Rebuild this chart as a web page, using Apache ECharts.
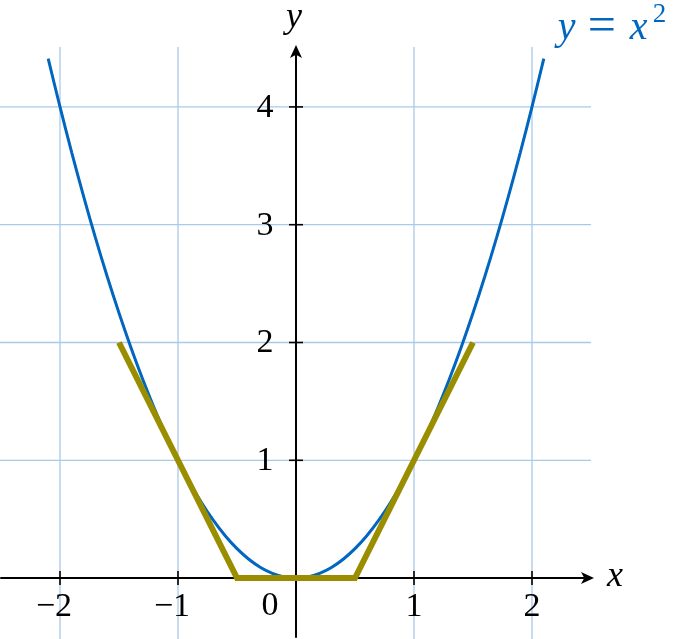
<!DOCTYPE html>
<html>
<head>
<meta charset="utf-8">
<script src="https://cdn.jsdelivr.net/npm/echarts@6/dist/echarts.min.js"></script>
<style>
html,body{margin:0;padding:0;background:#fff;}
#chart{width:675px;height:639px;}
</style>
</head>
<body>
<div id="chart"></div>
<script>
// ---- data ----
const curveX = [-2.1,-2.0,-1.9,-1.8,-1.7,-1.6,-1.5,-1.4,-1.3,-1.2,-1.1,-1.0,-0.9,-0.8,-0.7,-0.6,-0.5,-0.4,-0.3,-0.2,-0.1,0.0,0.1,0.2,0.3,0.4,0.5,0.6,0.7,0.8,0.9,1.0,1.1,1.2,1.3,1.4,1.5,1.6,1.7,1.8,1.9,2.0,2.1];
const curveY = [4.41,4.0,3.61,3.24,2.89,2.56,2.25,1.96,1.69,1.44,1.21,1.0,0.81,0.64,0.49,0.36,0.25,0.16,0.09,0.04,0.01,0.0,0.01,0.04,0.09,0.16,0.25,0.36,0.49,0.64,0.81,1.0,1.21,1.44,1.69,1.96,2.25,2.56,2.89,3.24,3.61,4.0,4.41];
const polyX = [-1.5,-0.5,0.5,1.5];
const polyY = [2,0,0,2];
const xTicks = [-2,-1,1,2];
const yTicks = [1,2,3,4];
const xTickLabels = ['\u22122','\u22121','1','2'];
const yTickLabels = ['1','2','3','4'];
const originLabel = '0';
const xGridVals = [-2,-1,1,2];
const yGridVals = [1,2,3,4];
const xRange = [-2.5, 2.5];
const yRange = [-0.5, 4.5];

const BLUE = '#0066bf';
const OLIVE = '#9a8e00';
const GRIDC = '#a9c9ea';
const FAM = 'Liberation Serif';

const chart = echarts.init(document.getElementById('chart'), null, {renderer:'canvas'});

function lineEl(p1, p2, color, w){
  return {type:'line', shape:{x1:p1[0],y1:p1[1],x2:p2[0],y2:p2[1]}, style:{stroke:color, lineWidth:w}};
}
function txt(x, y, s, size, italic, color, align){
  return {type:'text', x:x, y:y, style:{text:s, fontFamily:FAM, fontSize:size,
    fontStyle: italic ? 'italic' : 'normal', fill:color || '#000',
    align: align || 'center', verticalAlign:'middle'}};
}

const option = {
  backgroundColor:'#fff',
  animation:false,
  grid:{left:1, right:84, top:48, bottom:2, containLabel:false},
  xAxis:{
    type:'value', min:xRange[0], max:xRange[1],
    axisLine:{show:true, onZero:true, symbol:['none','arrow'], symbolSize:[9,13], symbolOffset:[0,3],
      lineStyle:{color:'#000', width:2}},
    axisTick:{show:false}, axisLabel:{show:false}, splitLine:{show:false}
  },
  yAxis:{
    type:'value', min:yRange[0], max:yRange[1],
    axisLine:{show:true, onZero:true, symbol:['none','arrow'], symbolSize:[9,13], symbolOffset:[0,3],
      lineStyle:{color:'#000', width:2}},
    axisTick:{show:false}, axisLabel:{show:false}, splitLine:{show:false}
  },
  series:[
    { // grid lines
      type:'custom', z:0, silent:true,
      data:[0],
      renderItem:function(params, api){
        const ch = [];
        xGridVals.forEach(v=>{
          const a = api.coord([v, yRange[0]]), b = api.coord([v, yRange[1]]);
          ch.push(lineEl([a[0], a[1]+3],[b[0], b[1]-1], GRIDC, 1.3));
        });
        yGridVals.forEach(v=>{
          const a = api.coord([xRange[0], v]), b = api.coord([xRange[1], v]);
          ch.push(lineEl([0, a[1]],[b[0], b[1]], GRIDC, 1.3));
        });
        return {type:'group', children:ch};
      }
    },
    {
      type:'line', name:'y = x^2', z:3,
      data:curveX.map((x,i)=>[x, curveY[i]]),
      showSymbol:false, smooth:0.3,
      lineStyle:{color:BLUE, width:3}
    },
    {
      type:'line', name:'poly', z:4,
      data:polyX.map((x,i)=>[x, polyY[i]]),
      showSymbol:false,
      lineStyle:{color:OLIVE, width:6, join:'miter', cap:'butt'}
    },
    { // ticks and tick labels
      type:'custom', z:5, silent:true,
      data:[0],
      renderItem:function(params, api){
        const ch = [];
        xTicks.forEach((v,i)=>{
          const p = api.coord([v,0]);
          ch.push(lineEl([p[0], p[1]-7],[p[0], p[1]+7], '#000', 1.6));
          ch.push(txt(p[0] + (v<0 ? -6 : 0), p[1]+29, xTickLabels[i], 34));
        });
        yTicks.forEach((v,i)=>{
          const p = api.coord([0,v]);
          ch.push(lineEl([p[0]-7, p[1]],[p[0]+7, p[1]], '#000', 1.6));
          ch.push(txt(p[0]-31, p[1]+1, yTickLabels[i], 34));
        });
        const o = api.coord([0,0]);
        ch.push(txt(o[0]-26, o[1]+28, originLabel, 34));
        // axis names
        const xe = api.coord([xRange[1],0]);
        ch.push(txt(xe[0]+24, xe[1]-2, 'x', 36, true));
        const ye = api.coord([0,yRange[1]]);
        ch.push(txt(ye[0]-2, ye[1]-30, 'y', 36, true));
        // curve label  y = x^2
        const ce = api.coord([curveX[curveX.length-1], curveY[curveY.length-1]]);
        const bx = ce[0]+14, by = ce[1]-30;
        ch.push(txt(bx, by, 'y', 40, true, BLUE, 'left'));
        ch.push(txt(bx+30, by-1, '=', 50, false, BLUE, 'left'));
        ch.push(txt(bx+72, by, 'x', 40, true, BLUE, 'left'));
        ch.push(txt(bx+95, by-14, '2', 27, false, BLUE, 'left'));
        return {type:'group', children:ch};
      }
    }
  ]
};
chart.setOption(option);
</script>
</body>
</html>
